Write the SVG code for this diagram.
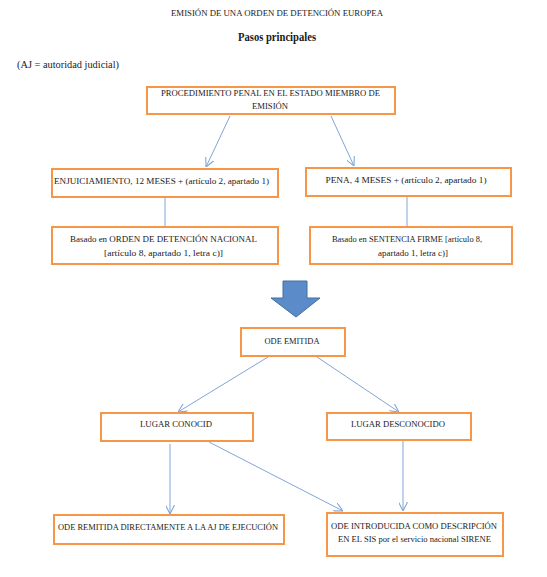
<svg xmlns="http://www.w3.org/2000/svg" width="547" height="577" viewBox="0 0 547 577" font-family="'Liberation Serif', serif">
<defs>
<style>
text{font-family:'Liberation Serif',serif;font-size:8.9px;fill:#1a1a1a;text-anchor:middle}
.box{fill:#fff;stroke:#f79646;stroke-width:2}
.con{stroke:#7fa6d6;stroke-width:1;fill:none}
.arr{marker-end:url(#ah)}
</style>
<marker id="ah" viewBox="0 0 10 10" refX="10" refY="5" markerWidth="9" markerHeight="9" markerUnits="userSpaceOnUse" orient="auto">
<path d="M0,0 L10,5 L0,10" fill="none" stroke="#7fa6d6" stroke-width="1.2"/>
</marker>
</defs>
<rect width="547" height="577" fill="#fff"/>
<text x="277" y="16" textLength="212" lengthAdjust="spacingAndGlyphs">EMISIÓN DE UNA ORDEN DE DETENCIÓN EUROPEA</text>
<text x="277" y="41" style="font-size:12px;font-weight:bold" textLength="78" lengthAdjust="spacingAndGlyphs">Pasos principales</text>
<text x="17" y="68" style="text-anchor:start;font-size:9.8px" textLength="102" lengthAdjust="spacingAndGlyphs">(AJ = autoridad judicial)</text>

<g id="connectors">
<line class="con arr" x1="230" y1="116" x2="206" y2="167"/>
<line class="con arr" x1="331" y1="116" x2="354" y2="166"/>
<line class="con" x1="165" y1="197" x2="165" y2="227"/>
<line class="con" x1="407" y1="196" x2="407" y2="227"/>
<line class="con arr" x1="268" y1="357" x2="178" y2="412"/>
<line class="con arr" x1="317" y1="357" x2="399" y2="412"/>
<line class="con arr" x1="170" y1="444" x2="170" y2="514"/>
<line class="con arr" x1="209" y1="442" x2="343" y2="511"/>
<line class="con arr" x1="403" y1="440" x2="403" y2="511"/>
</g>

<g id="bigarrow">
<polygon points="283,281 307,281 307,298 320,298 296,317 271,298 283,298" fill="#5b8bc9" stroke="#41719c" stroke-width="1"/>
</g>

<g id="n-procedimiento">
<rect class="box" x="147" y="87" width="248" height="27"/>
<text x="270.5" y="96" textLength="219" lengthAdjust="spacingAndGlyphs">PROCEDIMIENTO PENAL EN EL ESTADO MIEMBRO DE</text>
<text x="270" y="109" textLength="36" lengthAdjust="spacingAndGlyphs">EMISIÓN</text>
</g>
<g id="n-enjuiciamiento">
<rect class="box" x="52" y="169" width="226" height="28"/>
<text x="161.5" y="184" textLength="215" lengthAdjust="spacingAndGlyphs">ENJUICIAMIENTO, 12 MESES + (artículo 2, apartado 1)</text>
</g>
<g id="n-pena">
<rect class="box" x="306" y="168" width="205" height="28"/>
<text x="406" y="183" textLength="161" lengthAdjust="spacingAndGlyphs">PENA, 4 MESES + (artículo 2, apartado 1)</text>
</g>
<g id="n-ordennacional">
<rect class="box" x="52" y="227" width="226" height="37"/>
<text x="163.5" y="242" textLength="187" lengthAdjust="spacingAndGlyphs">Basado en ORDEN DE DETENCIÓN NACIONAL</text>
<text x="163.5" y="256" textLength="119" lengthAdjust="spacingAndGlyphs">[artículo 8, apartado 1, letra c)]</text>
</g>
<g id="n-sentencia">
<rect class="box" x="310" y="227" width="202" height="37"/>
<text x="407" y="242" textLength="150" lengthAdjust="spacingAndGlyphs">Basado en SENTENCIA FIRME [artículo 8,</text>
<text x="413" y="256" textLength="70" lengthAdjust="spacingAndGlyphs">apartado 1, letra c)]</text>
</g>
<g id="n-emitida">
<rect class="box" x="241" y="328" width="104" height="28"/>
<text x="292" y="344" textLength="55" lengthAdjust="spacingAndGlyphs">ODE EMITIDA</text>
</g>
<g id="n-conocido">
<rect class="box" x="101" y="413" width="152" height="28"/>
<text x="176" y="427" textLength="72" lengthAdjust="spacingAndGlyphs">LUGAR CONOCID</text>
</g>
<g id="n-desconocido">
<rect class="box" x="327" y="413" width="144" height="27"/>
<text x="398" y="427" textLength="94" lengthAdjust="spacingAndGlyphs">LUGAR DESCONOCIDO</text>
</g>
<g id="n-remitida">
<rect class="box" x="54" y="515" width="230" height="29"/>
<text x="168" y="530" textLength="220" lengthAdjust="spacingAndGlyphs">ODE REMITIDA DIRECTAMENTE A LA AJ DE EJECUCIÓN</text>
</g>
<g id="n-introducida">
<rect class="box" x="327" y="513" width="176" height="43"/>
<text x="414" y="529" textLength="166" lengthAdjust="spacingAndGlyphs">ODE INTRODUCIDA COMO DESCRIPCIÓN</text>
<text x="414.5" y="542" textLength="153" lengthAdjust="spacingAndGlyphs">EN EL SIS por el servicio nacional SIRENE</text>
</g>
</svg>
